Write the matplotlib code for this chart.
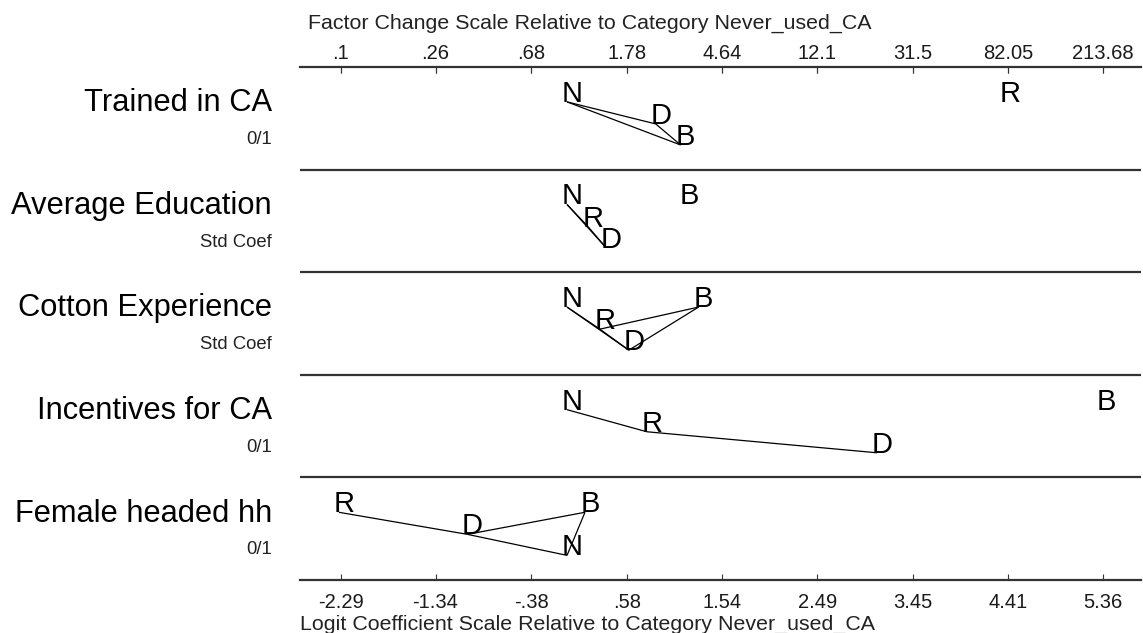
import matplotlib
matplotlib.use("Agg")
import matplotlib.pyplot as plt
from matplotlib.transforms import blended_transform_factory, offset_copy

# Variables (one row each) and the units of their coefficients
variables = ["Trained in CA", "Average Education", "Cotton Experience",
             "Incentives for CA", "Female headed hh"]
units = ["0/1", "Std Coef", "Std Coef", "0/1", "0/1"]

# Logit coefficients relative to the base outcome Never_used_CA (N)
coef = {
    "N": [0.00, 0.00, 0.00, 0.00, 0.00],
    "B": [1.14, 1.18, 1.32, 5.36, 0.18],
    "D": [0.89, 0.39, 0.62, 3.11, -1.00],
    "R": [4.40, 0.21, 0.33, 0.80, -2.29],
}

# Vertical stacking level of each letter inside its row
level = {
    "N": [0, 0, 0, 0, 2],
    "B": [2, 0, 0, 0, 0],
    "D": [1, 2, 2, 2, 1],
    "R": [0, 1, 1, 1, 0],
}

# Outcome pairs joined by a line (not significantly different)
links = [
    [("N", "D"), ("N", "B"), ("D", "B")],
    [("N", "R"), ("R", "D"), ("N", "D")],
    [("N", "R"), ("N", "D"), ("R", "D"), ("R", "B"), ("D", "B")],
    [("N", "R"), ("R", "D")],
    [("R", "D"), ("D", "B"), ("D", "N"), ("B", "N")],
]

logit_ticks = [-2.29, -1.34, -0.38, 0.58, 1.54, 2.49, 3.45, 4.41, 5.36]
logit_labels = ["-2.29", "-1.34", "-.38", ".58", "1.54", "2.49", "3.45", "4.41", "5.36"]
factor_labels = [".1", ".26", ".68", "1.78", "4.64", "12.1", "31.5", "82.05", "213.68"]

plt.rcParams["font.family"] = ["Liberation Sans", "DejaVu Sans"]

W, H = 1143, 633
fig = plt.figure(figsize=(W / 100, H / 100), dpi=100)
fig.patch.set_facecolor("white")

left_px, right_px, top_px, bot_px = 300, 1141, 67, 580
ax = fig.add_axes([left_px / W, 1 - bot_px / H,
                   (right_px - left_px) / W, (bot_px - top_px) / H])

nrows = len(variables)
ax.set_xlim(-2.70, 5.74)
ax.set_ylim(nrows, 0)

line_col = "#333333"
for side in ("left", "right"):
    ax.spines[side].set_visible(False)
for side in ("top", "bottom"):
    ax.spines[side].set_color(line_col)
    ax.spines[side].set_linewidth(1.6)
for i in range(1, nrows):
    ax.axhline(i, color=line_col, lw=1.6)

ax.set_yticks([])
ax.set_xticks(logit_ticks)
ax.set_xticklabels(logit_labels)
ax.tick_params(axis="x", direction="in", length=4.5, width=0.8, color=line_col,
               labelsize=14.5, pad=9, bottom=True, top=True,
               labelcolor="#1a1a1a")

sec = ax.secondary_xaxis("top")
sec.set_xticks(logit_ticks)
sec.set_xticklabels(factor_labels)
sec.tick_params(axis="x", direction="in", length=4.5, width=0.8, color=line_col,
                labelsize=14.5, pad=3, labelcolor="#1a1a1a")
sec.spines["top"].set_visible(False)

# Baseline offsets (in row units) of the three stacking levels
level_y = [0.34, 0.555, 0.76]

line_tr = offset_copy(ax.transData, fig=fig, x=-2, y=0, units="dots")
for r in range(nrows):
    pos = {k: (coef[k][r], r + level_y[level[k][r]]) for k in coef}
    for a, b in links[r]:
        ax.plot([pos[a][0], pos[b][0]], [pos[a][1], pos[b][1]],
                color="black", lw=0.9, transform=line_tr, solid_capstyle="butt")
    for k, (x, y) in pos.items():
        ax.annotate(k, (x, y), xytext=(2.2, 0), textcoords="offset points",
                    ha="center", va="baseline", fontsize=21, color="black")

# Row labels to the left of the panel
lab_tr = blended_transform_factory(fig.transFigure, ax.transData)
for r in range(nrows):
    ax.text(272 / W, r + 0.43, variables[r], transform=lab_tr, ha="right",
            va="baseline", fontsize=22.2, color="black")
    ax.text(272 / W, r + 0.75, units[r], transform=lab_tr, ha="right",
            va="baseline", fontsize=13.3, color="#222222")

fig.text(308 / W, 1 - 29 / H, "Factor Change Scale Relative to Category Never_used_CA",
         ha="left", va="baseline", fontsize=15.4, color="#222222")
fig.text(300 / W, 1 - 630 / H, "Logit Coefficient Scale Relative to Category Never_used_CA",
         ha="left", va="baseline", fontsize=15.4, color="#222222")

fig.savefig("out.png", dpi=100, facecolor="white")
